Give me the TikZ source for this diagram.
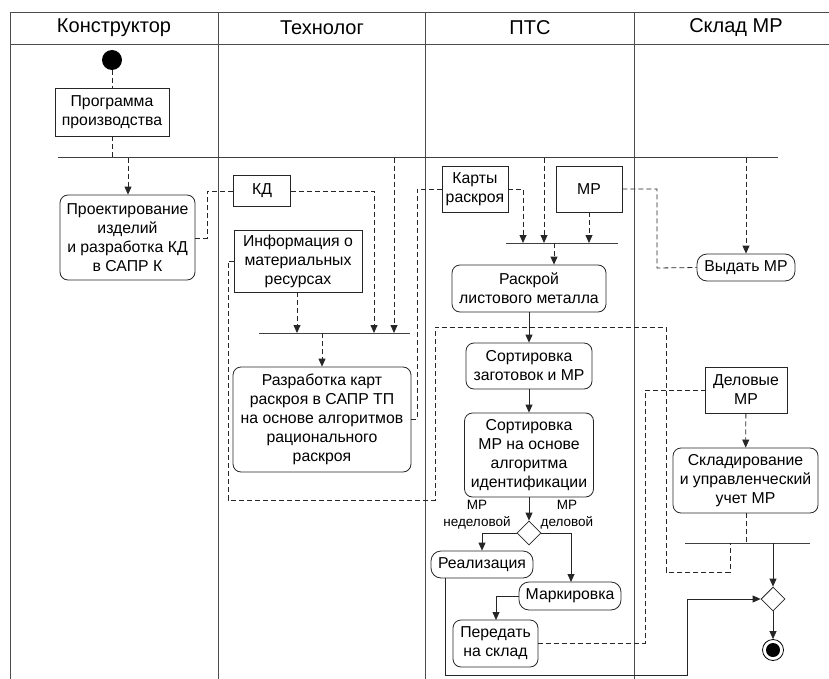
\documentclass[tikz,border=0pt]{standalone}
\usepackage{fontspec}
\setmainfont{Liberation Sans}
\usetikzlibrary{shapes.geometric,arrows.meta}
\tikzset{
  lane/.style={draw=black!70, line width=0.9pt},
  flow/.style={draw=black!85, line width=0.8pt},
  obj/.style={flow, dash pattern=on 5pt off 3pt},
  arr/.style={-{Triangle[length=8pt,width=7pt]}},
  txt/.style={font=\fontsize{15.8}{19}\selectfont, align=center, inner sep=1pt},
  rbox/.style={txt, draw=black!85, line width=0.8pt, rounded corners=8pt, fill=white},
  pbox/.style={txt, draw=black!85, line width=0.8pt, rounded corners=10pt, fill=white},
  sbox/.style={txt, draw=black!85, line width=0.8pt, fill=white},
  bar/.style={draw=black!75, line width=1pt},
  hdr/.style={font=\fontsize{20}{22}\selectfont},
  lbl/.style={font=\fontsize{13.5}{17}\selectfont, align=center, inner sep=0pt},
  dia/.style={diamond, draw=black!85, line width=0.8pt, fill=white, minimum size=24pt, inner sep=0pt}
}
\begin{document}
\begin{tikzpicture}[x=1pt,y=-1pt]
\useasboundingbox (0,0) rectangle (829,679);
% lanes
\draw[lane] (10,12) -- (829,12);
\draw[lane] (10,44) -- (829,44);
\draw[lane] (10,12) -- (10,679);
\draw[lane] (218,12) -- (218,679);
\draw[lane] (425,12) -- (425,679);
\draw[lane] (634,12) -- (634,679);
\node[hdr] (h1) at (114,28) {Конструктор};
\node[hdr] (h2) at (322,28) {Технолог};
\node[hdr] (h3) at (530,28) {ПТС};
\node[hdr] (h4) at (736,28) {Склад МР};

% bars
\coordinate (b1l) at (58,158); \coordinate (b1r) at (778,158);
\coordinate (b2l) at (259,333); \coordinate (b2r) at (410,333);
\coordinate (b3l) at (506,243); \coordinate (b3r) at (618,243);
\coordinate (b4l) at (685,543); \coordinate (b4r) at (810,543);
\draw[bar] (b1l) -- (b1r);
\draw[bar] (b2l) -- (b2r);
\draw[bar] (b3l) -- (b3r);
\draw[bar] (b4l) -- (b4r);

% nodes
\node[circle, fill=black, minimum size=20pt, inner sep=0pt] (start) at (112,60) {};
\node[sbox, minimum width=114pt, minimum height=48pt] (prog) at (112,112) {Программа\\производства};
\node[rbox, minimum width=135pt, minimum height=85pt] (proj) at (127.5,237.5) {Проектирование\\изделий\\и разработка КД\\в САПР К};
\node[sbox, minimum width=57pt, minimum height=31pt] (kd) at (262,191) {КД};
\node[sbox, minimum width=128pt, minimum height=62pt] (info) at (298,261) {Информация о\\материальных\\ресурсах};
\node[rbox, minimum width=178pt, minimum height=105pt] (razr) at (322,419.5) {Разработка карт\\раскроя в САПР ТП\\на основе алгоритмов\\рационального\\раскроя};
\node[sbox, minimum width=66pt, minimum height=46pt] (karty) at (475,189) {Карты\\раскроя};
\node[sbox, minimum width=66pt, minimum height=46pt] (mr) at (589,189) {МР};
\node[rbox, minimum width=154pt, minimum height=47pt] (raskroy) at (529,288.5) {Раскрой\\листового металла};
\node[pbox, minimum width=98pt, minimum height=27pt] (vydat) at (746,267.5) {Выдать МР};
\node[rbox, minimum width=126pt, minimum height=46pt] (sort1) at (529,366) {Сортировка\\заготовок и МР};
\node[rbox, minimum width=129pt, minimum height=84pt] (sort2) at (529,455) {Сортировка\\МР на основе\\алгоритма\\идентификации};
\node[dia] (d1) at (529,533) {};
\node[lbl] (l1) at (477,515) {МР\\неделовой};
\node[lbl] (l2) at (567,515) {МР\\деловой};
\node[pbox, minimum width=102pt, minimum height=27pt] (real) at (482,564.5) {Реализация};
\node[pbox, minimum width=102pt, minimum height=28pt] (mark) at (570,596) {Маркировка};
\node[rbox, minimum width=85pt, minimum height=47pt] (pered) at (495.5,643.5) {Передать\\на склад};
\node[sbox, minimum width=82pt, minimum height=46pt] (delov) at (746,390) {Деловые\\МР};
\node[rbox, minimum width=145pt, minimum height=65pt] (sklad) at (745.5,480.5) {Складирование\\и управленческий\\учет МР};
\node[dia] (d2) at (773,599) {};
\node[circle, draw=black, line width=0.8pt, fill=white, minimum size=21pt, inner sep=0pt] (endo) at (773,650) {};
\node[circle, fill=black, minimum size=14pt, inner sep=0pt] (endi) at (773,650) {};

% object flows (dashed)
\draw[obj] (start) -- (prog);
\draw[obj] (prog.south) -- (prog.south |- b1l);
\draw[obj,arr] (128,158) -- (proj.north -| 128,0);
\draw[obj] (proj.east |- 0,238) -| (207,191) -- (kd.west);
\draw[obj,arr] (kd.east) -| (374,333);
\draw[obj,arr] (394,158) -- (394,333);
\draw[obj,arr] (info.south -| 297,0) -- (297,333);
\draw[obj,arr] (322,333) -- (razr.north -| 322,0);
\draw[obj] (razr.east |- 0,419) -| (417,189) -- (karty.west);
\draw[obj,arr] (karty.east) -| (523,243);
\draw[obj,arr] (544,158) -- (544,243);
\draw[obj,arr] (mr.south) -- (589,243);
\draw[obj,arr] (554,243) -- (raskroy.north -| 554,0);
\draw[obj] (mr.east) -| (657,268) -- (vydat.west);
\draw[obj,arr] (746,158) -- (vydat.north);
\draw[obj] (pered.east |- 0,643) -| (645,390) -- (delov.west);
\draw[obj,arr] (delov) -- (sklad);
\draw[obj] (sklad.south -| 746,0) -- (746,543);
\draw[obj] (info.west) -- (228,261) -- (228,500) -- (435,500) -- (435,327) -- (666,327) -- (666,572) -- (730,572) -- (730,543);

% control flows (solid)
\draw[flow,arr] (raskroy.south -| sort1.north) -- (sort1.north);
\draw[flow,arr] (sort1) -- (sort2);
\draw[flow,arr] (sort2) -- (d1);
\draw[flow,arr] (d1.west) -| (real.north);
\draw[flow,arr] (d1.east) -| (571,582);
\draw[flow,arr] (mark.west) -| (496,620);
\draw[flow,arr] (773,543) -- (d2.north);
\draw[flow,arr] (real.south -| 445,0) -- (445,675) -- (687,675) -- (687,599) -- (d2.west);
\draw[flow,arr] (d2) -- (endo);
\end{tikzpicture}
\end{document}
